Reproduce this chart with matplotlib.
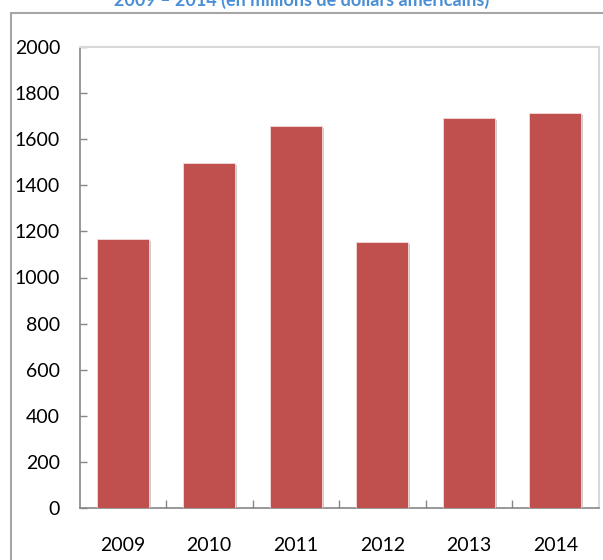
import matplotlib.pyplot as plt
from matplotlib.patches import Rectangle
import matplotlib.patheffects as pe

# Values in millions of US dollars
years = ["2009", "2010", "2011", "2012", "2013", "2014"]
values = [1167, 1497, 1658, 1153, 1691, 1713]
y_ticks = [0, 200, 400, 600, 800, 1000, 1200, 1400, 1600, 1800, 2000]
title = "2009 \u2013 2014 (en millions de dollars américains)"

plt.rcParams['font.family'] = ['Lato', 'DejaVu Sans']

W, H = 603, 560
fig = plt.figure(figsize=(W / 100, H / 100), dpi=100)

# plot area in pixel coordinates
left, right, top, bottom = 79.5, 598.5, 47, 508
ax = fig.add_axes([left / W, 1 - bottom / H, (right - left) / W, (bottom - top) / H])

x = list(range(len(years)))
bars = ax.bar(x, values, width=0.6, color="#C0504D", edgecolor="#f2dcdb",
              linewidth=0.6, zorder=3)
for b in bars:
    b.set_path_effects([pe.SimplePatchShadow(offset=(1.5, -1.5), shadow_rgbFace="#999999", alpha=0.5),
                        pe.Normal()])

ax.set_xlim(-0.5, len(years) - 0.5)
ax.set_ylim(0, 2000)
ax.set_yticks(y_ticks)
ax.set_yticklabels([str(v) for v in y_ticks], fontsize=14)
ax.set_xticks(x)
ax.set_xticklabels(years, fontsize=14)
ax.set_xticks([i + 0.5 for i in range(len(years) - 1)], minor=True)

ax.tick_params(axis='y', direction='in', length=5, width=1, color="#868686", pad=14)
ax.tick_params(axis='x', which='major', length=0, pad=21)
ax.tick_params(axis='x', which='minor', direction='in', length=6, width=1, color="#868686")

for side in ['left', 'bottom']:
    ax.spines[side].set_color("#868686")
    ax.spines[side].set_linewidth(1.2)
for side in ['top', 'right']:
    ax.spines[side].set_color("#d9d9d9")
    ax.spines[side].set_linewidth(1.5)

# outer chart frame
fig.patches.append(Rectangle((11 / W, -0.1), 1, 1 - 12.5 / H + 0.1, transform=fig.transFigure,
                             fill=False, edgecolor="#a6a6a6", linewidth=1.5))

fig.text(0.5, 1 - 5.5 / H, title, ha='center', va='baseline', fontsize=13,
         fontweight='bold', color="#4a8fd6")

fig.savefig("out.png", dpi=100)
